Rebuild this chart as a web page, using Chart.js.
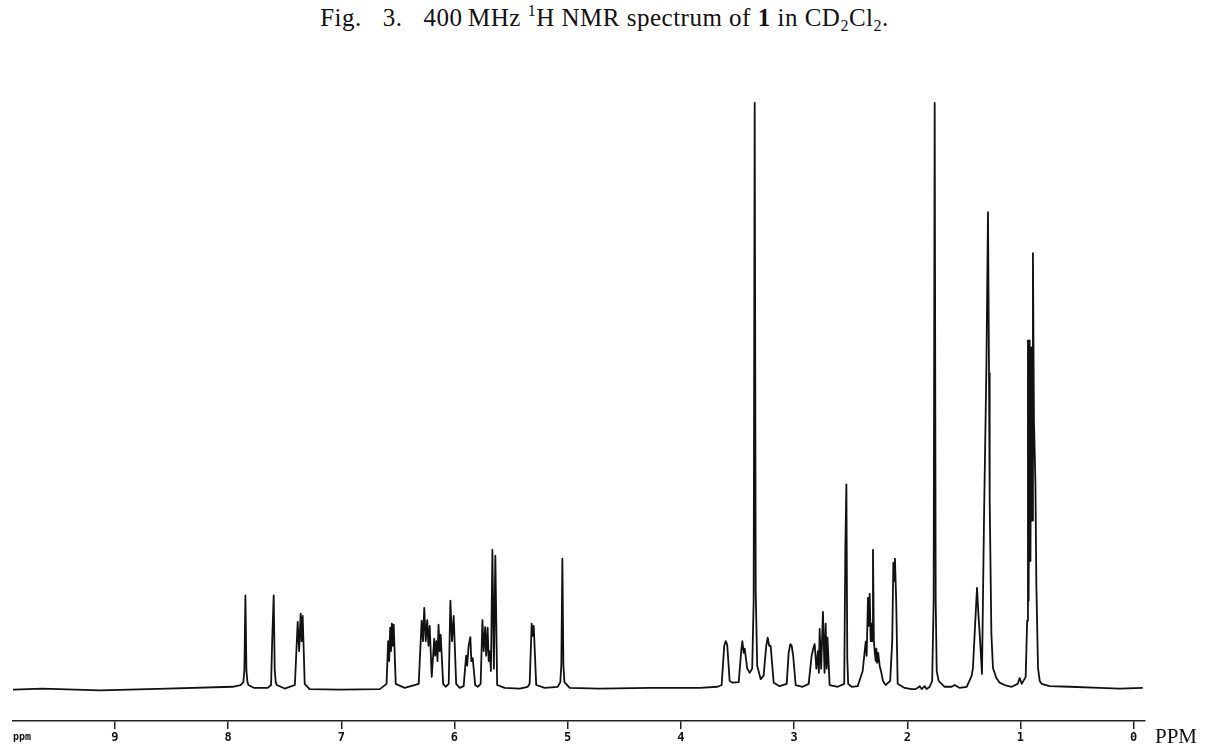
<!DOCTYPE html>
<html>
<head>
<meta charset="utf-8">
<script src="https://cdn.jsdelivr.net/npm/chart.js@4.4.1/dist/chart.umd.min.js"></script>
<style>
    body { margin: 0; background: #fff; }
    #wrap { position: relative; width: 1205px; height: 745px; }
    #title {
        position: absolute; left: 0; top: 4px; width: 1205px; padding-left: 4px; box-sizing: border-box;
        text-align: center; font-family: "Liberation Serif", serif; font-size: 25px; letter-spacing: 0.5px; color: #111;
        white-space: nowrap;
    }
    #title .gap { display: inline-block; width: 21px; }
    #title sub { font-size: 16px; vertical-align: -5px; line-height: 0; }
    #title sup { font-size: 16px; vertical-align: 10px; line-height: 0; }
    canvas { position: absolute; left: 0; top: 0; }
</style>
</head>
<body>
<div id="wrap">
    <div id="title">Fig.<span class="gap"></span>3.<span class="gap"></span>400&#8201;MHz <sup>1</sup>H NMR spectrum of <b>1</b> in CD<sub>2</sub>Cl<sub>2</sub>.</div>
    <canvas id="nmr" width="1205" height="745"></canvas>
</div>
<script>
// chemical shift (ppm) and relative intensity (% of tallest line)
const aromaticPpm = [9.90, 9.64, 9.13, 8.54, 7.96, 7.89, 7.865, 7.856, 7.847, 7.838, 7.829, 7.82, 7.77, 7.65, 7.62, 7.61, 7.597, 7.588, 7.579, 7.57, 7.50,
    7.41, 7.385, 7.372, 7.359, 7.350, 7.341, 7.323, 7.28, 7.01, 6.66, 6.60, 6.586, 6.577, 6.568, 6.561, 6.553, 6.546, 6.537, 6.519];
const aromaticInt = [-0.3, -0.1, -0.4, -0.1, 0.2, 0.5, 1.0, 3.0, 15.8, 3.0, 1.0, 0.5, 0, 0, 0.5, 8.4, 15.8, 3.0, 1.0, 0.5, -0.1,
    0.5, 11.3, 6.3, 12.7, 8.0, 12.3, 0.7, -0.2, -0.3, -0.2, 0.7, 8.0, 4.6, 10.3, 6.3, 11.0, 7.2, 10.8, 0.7];

const olefinPpm = [6.440, 6.316, 6.290, 6.278, 6.267, 6.254, 6.241, 6.230, 6.219, 6.201, 6.179, 6.171, 6.159, 6.150, 6.141, 6.131, 6.122, 6.100,
    6.078, 6.051, 6.036, 6.022, 6.007, 5.985, 5.954, 5.919, 5.897, 5.888, 5.875, 5.860, 5.851, 5.839, 5.817, 5.795,
    5.769, 5.753, 5.742, 5.729, 5.720, 5.707, 5.698, 5.689, 5.678, 5.665, 5.652, 5.639, 5.623, 5.557, 5.424,
    5.353, 5.336, 5.318, 5.309, 5.300, 5.278, 5.203, 5.088, 5.065, 5.056, 5.047, 5.038, 5.029, 4.982];
const olefinInt = [0, 0.7, 11.5, 8.0, 13.7, 8.0, 11.6, 7.2, 10.6, 1.9, 8.4, 5.5, 8.0, 4.6, 10.8, 6.3, 9.1, 0.7,
    0.2, 0.7, 14.9, 8.0, 12.3, 0.7, 0, 0.3, 5.5, 3.8, 7.2, 8.7, 4.6, 5.1, 0.5, 0.2,
    0.7, 11.6, 6.3, 10.4, 5.5, 10.3, 4.6, 6.3, 2.9, 23.6, 3.3, 22.6, 0.5, 0, -0.1,
    0.2, 0.7, 11.0, 8.9, 10.6, 0.5, 0, 0.2, 1.0, 4.0, 22.1, 4.0, 1.0, 0];

const midPpm = [4.717, 4.276, 3.834, 3.675, 3.640, 3.617, 3.604, 3.591, 3.569, 3.542, 3.489, 3.467, 3.457, 3.445, 3.436, 3.414,
    3.392, 3.370, 3.357, 3.348, 3.339, 3.326, 3.295, 3.269, 3.246, 3.233, 3.220, 3.207, 3.180, 3.127,
    3.065, 3.048, 3.033, 3.021, 3.008, 2.986, 2.924, 2.871, 2.845, 2.831, 2.818, 2.803, 2.789, 2.781, 2.774, 2.761,
    2.745, 2.731, 2.721, 2.712, 2.705, 2.686, 2.615, 2.557, 2.547, 2.538, 2.530, 2.522, 2.491, 2.438,
    2.394, 2.376, 2.367, 2.359, 2.347, 2.341, 2.332, 2.323, 2.317, 2.310, 2.303, 2.295, 2.288, 2.279, 2.273, 2.266,
    2.257, 2.244, 2.229, 2.215, 2.191, 2.151, 2.133, 2.123, 2.116, 2.109, 2.098, 2.085];
const midInt = [-0.1, 0, 0, 0.2, 0.5, 7.2, 8.0, 7.4, 1.2, 0.9, 1.0, 6.3, 8.0, 6.0, 6.7, 3.3,
    2.6, 3.3, 14.9, 100, 16.6, 3.8, 1.5, 2.1, 7.2, 8.6, 7.2, 7.2, 0.9, 0.3,
    0.7, 6.0, 7.5, 7.2, 5.5, 0.5, 0.2, 0.7, 5.5, 6.7, 7.5, 3.3, 6.3, 2.6, 10.1, 3.3,
    13.0, 2.6, 11.0, 3.3, 8.6, 0.5, 0.2, 0.7, 24.0, 34.8, 5.0, 0.7, 0.2, 0.3,
    2.9, 6.3, 7.9, 5.5, 15.4, 10.6, 16.1, 8.0, 11.0, 8.0, 23.6, 8.0, 6.3, 4.6, 6.7, 4.3,
    6.0, 3.8, 2.6, 1.2, 0.5, 1.2, 8.0, 21.4, 18.3, 22.1, 14.9, 0.7];

const highPpm = [2.023, 1.961, 1.926, 1.890, 1.873, 1.846, 1.829, 1.802, 1.780, 1.767, 1.758, 1.749, 1.740, 1.723,
    1.670, 1.608, 1.581, 1.537, 1.475, 1.431, 1.420, 1.402, 1.384, 1.372, 1.360, 1.340,
    1.322, 1.301, 1.287, 1.278, 1.272, 1.257, 1.243, 1.213, 1.184, 1.140, 1.078, 1.025, 1.007, 0.989, 0.954,
    0.941, 0.934, 0.928, 0.919, 0.912, 0.904, 0.897, 0.890, 0.881, 0.868, 0.860, 0.845, 0.830, 0.813,
    0.742, 0.565, 0.300, 0.124, -0.080];
const highInt = [0, -0.2, -0.2, 0.3, -0.2, 0.3, -0.2, 0.2, 1.2, 14.9, 100, 14.9, 2.9, 1.2,
    0.2, 0.2, 0.5, 0, 0.2, 2.1, 3.4, 10.3, 17.1, 12.7, 9.2, 2.4,
    29.1, 54.8, 81.3, 53.8, 32.0, 9.2, 3.4, 1.7, 0.9, 0.5, 0.2, 0.7, 1.7, 0.7, 1.9,
    11.5, 59.4, 14.9, 59.4, 21.7, 58.2, 28.6, 74.3, 45.7, 34.9, 17.8, 3.4, 1.2, 0.7,
    0.3, 0.2, 0, -0.1, 0];

const tickPpm = [9, 8, 7, 6, 5, 4, 3, 2, 1, 0];

function toPoints(ppm, intensity) {
    return ppm.map((p, i) => ({ x: p, y: intensity[i] }));
}

const spectrum = [].concat(
    toPoints(aromaticPpm, aromaticInt),
    toPoints(olefinPpm, olefinInt),
    toPoints(midPpm, midInt),
    toPoints(highPpm, highInt)
);

// unit labels at both ends of the ppm axis
const axisLabels = {
    id: 'axisLabels',
    afterDraw(chart) {
        const ctx = chart.ctx;
        const bottom = chart.chartArea.bottom;
        ctx.save();
        ctx.fillStyle = '#111';
        ctx.textBaseline = 'alphabetic';
        ctx.font = 'bold 10px "DejaVu Sans Mono"';
        ctx.fillText('ppm', 13, bottom + 19);
        ctx.font = '21px "Liberation Serif"';
        ctx.fillText('PPM', 1155, bottom + 22);
        ctx.restore();
    }
};

new Chart(document.getElementById('nmr'), {
    type: 'line',
    data: {
        datasets: [{
            data: spectrum,
            borderColor: '#111',
            borderWidth: 1.8,
            borderJoinStyle: 'round',
            pointRadius: 0,
            tension: 0,
            fill: false
        }]
    },
    options: {
        responsive: false,
        animation: false,
        devicePixelRatio: 1,
        layout: { padding: { top: 97, left: 13, right: 60, bottom: 0 } },
        plugins: { legend: { display: false }, tooltip: { enabled: false }, title: { display: false } },
        scales: {
            x: {
                type: 'linear',
                reverse: true,
                min: -0.1,
                max: 9.9,
                afterBuildTicks: scale => { scale.ticks = tickPpm.map(v => ({ value: v })); },
                afterFit: scale => { scale.height = 24; },
                border: { display: true, color: '#222', width: 1.5 },
                grid: { drawOnChartArea: false, tickLength: 8, color: '#222', lineWidth: 1.5 },
                ticks: {
                    color: '#111',
                    padding: 2,
                    maxRotation: 0,
                    font: { family: 'DejaVu Sans Mono', size: 12, weight: 'bold' },
                    callback: v => String(v)
                }
            },
            y: {
                display: false,
                min: -5.65,
                max: 101
            }
        }
    },
    plugins: [axisLabels]
});
</script>
</body>
</html>
